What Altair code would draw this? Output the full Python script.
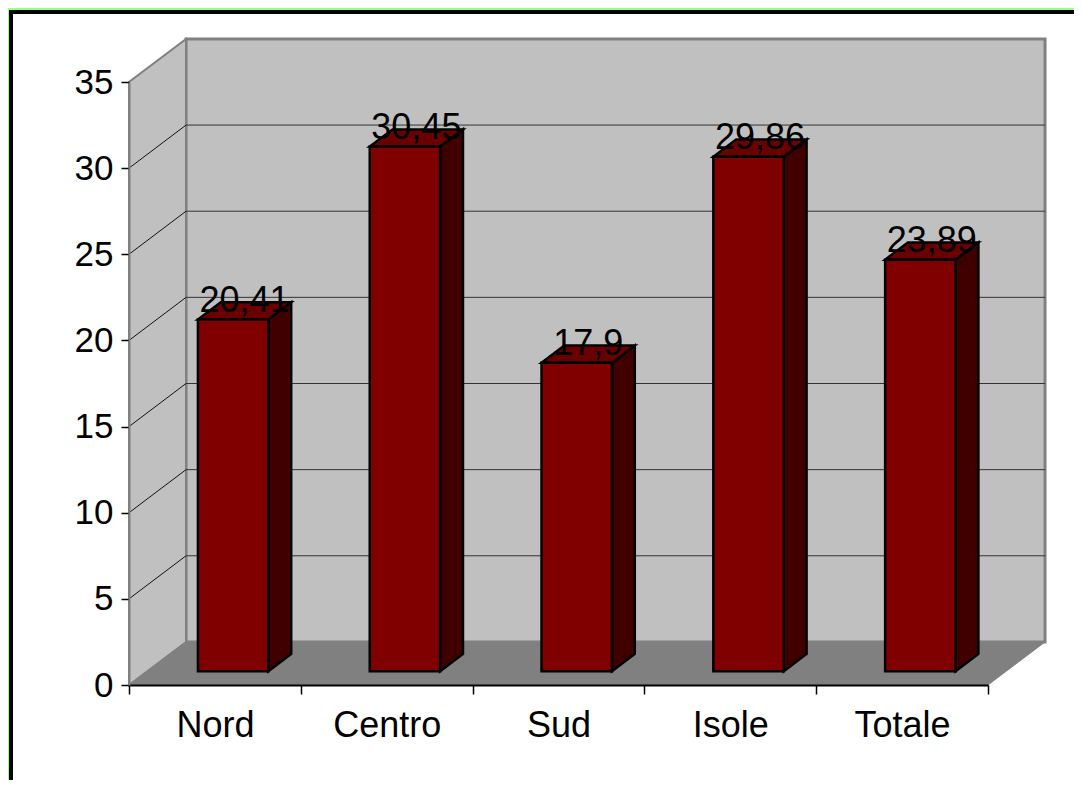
import altair as alt
import pandas as pd

# ---- data ----
categories = ["Nord", "Centro", "Sud", "Isole", "Totale"]
values = [20.41, 30.45, 17.9, 29.86, 23.89]
value_labels = ["20,41", "30,45", "17,9", "29,86", "23,89"]
y_ticks = [0, 5, 10, 15, 20, 25, 30, 35]

# ---- 3D geometry (styling, in data units) ----
DX, DY = 0.332, 2.5          # depth of the chart box
FRONT = 0.32                 # depth fraction where bar fronts stand
BAR_D = 0.40                 # depth fraction of the bars
BAR_W = 0.41                 # bar width in category units
N = len(categories)
YMAX = 35

W, H = 859, 603
PAD = {"left": 121, "top": 74, "right": 86, "bottom": 95}
FONT = "Liberation Sans"

xs = alt.Scale(domain=[0, N], nice=False, zero=False)
ys = alt.Scale(domain=[0, YMAX], nice=False, zero=False)

XAX = alt.Axis(
    values=list(range(N + 1)), title=None, grid=False, zindex=1,
    labelExpr="[" + ",".join("'" + c + "'" for c in categories) + ",''][datum.value]",
    labelOffset=W / N / 2, labelFlush=False, labelOverlap=False,
    labelFontSize=36, labelFont=FONT, labelColor="black", labelPadding=14,
    tickSize=9, tickColor="black", tickWidth=1.5,
    domainColor="black", domainWidth=2,
)
YAX = alt.Axis(
    values=y_ticks, title=None, grid=False, zindex=1, labelFlush=False,
    labelOverlap=False, labelFontSize=35, labelFont=FONT,
    labelColor="black", labelPadding=8, tickSize=8,
    tickColor="black", tickWidth=1.5, domainColor="#808080",
    domainWidth=2,
)


def X(f):
    return alt.X(f, scale=xs, axis=XAX)


def Y(f):
    return alt.Y(f, scale=ys, axis=YAX, stack=None)


# frame
frame = alt.Chart(pd.DataFrame({"a": [0]})).mark_rect(
    fill="white", stroke="black", strokeWidth=4
).encode(
    x=alt.value(-118), x2=alt.value(W + PAD["right"] + 10),
    y=alt.value(-70), y2=alt.value(H + PAD["bottom"] + 10),
)

# left wall
lw = pd.DataFrame({"x": [0, DX], "lo": [0, DY], "hi": [YMAX, YMAX + DY]})
left_wall = alt.Chart(lw).mark_area(
    fill="#c0c0c0", stroke="#808080", strokeWidth=2
).encode(x=X("x:Q"), y=Y("lo:Q"), y2="hi:Q")

# back wall
bw = pd.DataFrame({"x": [DX], "x2": [N + DX], "y": [DY], "y2": [YMAX + DY]})
back_wall = alt.Chart(bw).mark_rect(
    fill="#c0c0c0", stroke="#808080", strokeWidth=3
).encode(x=X("x:Q"), x2="x2:Q", y=Y("y:Q"), y2="y2:Q")

# floor
fl = pd.DataFrame({"x": [0, DX, N, N + DX], "lo": [0, 0, 0, DY], "hi": [0, DY, DY, DY]})
floor = alt.Chart(fl).mark_area(fill="#808080", stroke="#808080", strokeWidth=1).encode(
    x=X("x:Q"), y=Y("lo:Q"), y2="hi:Q"
)

# gridlines
grid_vals = y_ticks[1:-1]
gb = pd.DataFrame({"x": [DX] * len(grid_vals), "x2": [N + DX] * len(grid_vals),
                   "y": [v + DY for v in grid_vals]})
grid_back = alt.Chart(gb).mark_rule(color="#333333", strokeWidth=1).encode(
    x=X("x:Q"), x2="x2:Q", y=Y("y:Q"),
)
gl = pd.DataFrame({"x": [0] * len(grid_vals), "x2": [DX] * len(grid_vals),
                   "y": grid_vals, "y2": [v + DY for v in grid_vals]})
grid_left = alt.Chart(gl).mark_rule(color="#111111", strokeWidth=1).encode(
    x=X("x:Q"), x2="x2:Q", y=Y("y:Q"), y2="y2:Q",
)

# bars
fx, fy = FRONT * DX, FRONT * DY
bdx, bdy = BAR_D * DX, BAR_D * DY
front_rows, side_rows, top_rows, lab_rows = [], [], [], []
for i, (c, v, lab) in enumerate(zip(categories, values, value_labels)):
    xl = i + 0.5 + fx - BAR_W / 2
    xr = xl + BAR_W
    y0, y1 = fy, v + fy
    front_rows.append({"cat": c, "xl": xl, "xr": xr, "y0": y0, "y1": y1})
    side_rows += [
        {"cat": c, "x": xr, "lo": y0, "hi": y1},
        {"cat": c, "x": xr + bdx, "lo": y0 + bdy, "hi": y1 + bdy},
    ]
    top_rows += [
        {"cat": c, "x": xl, "lo": y1, "hi": y1},
        {"cat": c, "x": xl + bdx, "lo": y1, "hi": y1 + bdy},
        {"cat": c, "x": xr, "lo": y1, "hi": y1 + bdy},
        {"cat": c, "x": xr + bdx, "lo": y1 + bdy, "hi": y1 + bdy},
    ]
    lab_rows.append({"cat": c, "x": xl + (BAR_W + bdx) / 2, "y": y1, "t": lab})

front = alt.Chart(pd.DataFrame(front_rows)).mark_rect(
    fill="#800000", stroke="black", strokeWidth=2.5
).encode(x=X("xl:Q"), x2="xr:Q", y=Y("y0:Q"), y2="y1:Q")
side = alt.Chart(pd.DataFrame(side_rows)).mark_area(
    fill="#400000", stroke="black", strokeWidth=2.5
).encode(x=X("x:Q"), y=Y("lo:Q"), y2="hi:Q", detail="cat:N")
top = alt.Chart(pd.DataFrame(top_rows)).mark_area(
    fill="#6a0000", stroke="black", strokeWidth=2.5
).encode(x=X("x:Q"), y=Y("lo:Q"), y2="hi:Q", detail="cat:N")
labels = alt.Chart(pd.DataFrame(lab_rows)).mark_text(
    font=FONT, fontSize=36, color="black", baseline="alphabetic",
    align="center", dy=-8
).encode(x=X("x:Q"), y=Y("y:Q"), text="t:N")

chart = alt.layer(
    frame, back_wall, left_wall, floor, grid_back, grid_left,
    side, top, front, labels
).properties(
    width=W, height=H,
    padding=PAD,
    autosize=alt.AutoSizeParams(type="none"),
    background="#99ff80",
).configure_view(stroke=None)

chart.save("out.html", embed_options={"renderer": "svg", "actions": False})
